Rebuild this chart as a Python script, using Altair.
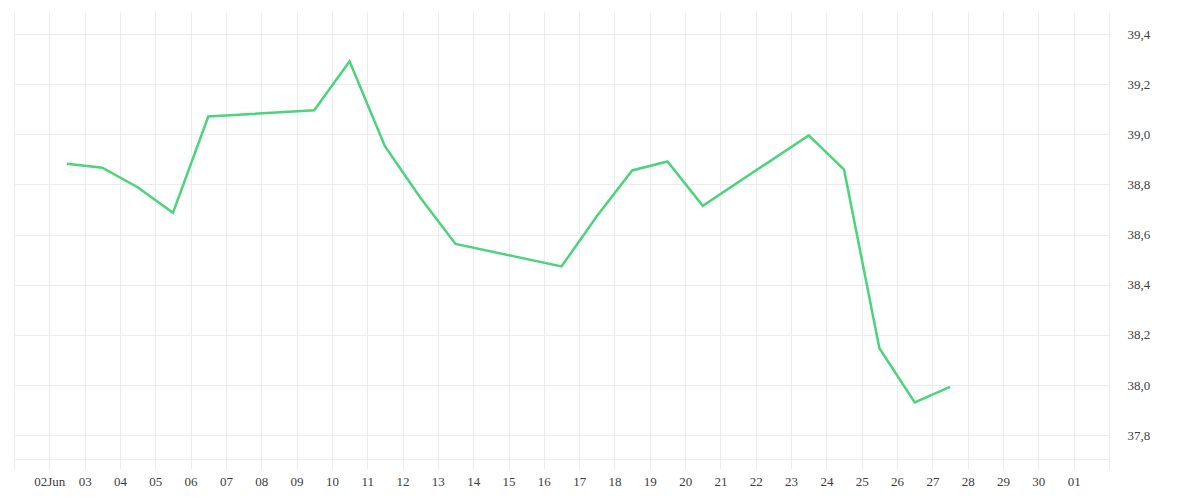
import altair as alt
import pandas as pd

dates = [
    "2024-06-02T12:00:00", "2024-06-03T12:00:00", "2024-06-04T12:00:00",
    "2024-06-05T12:00:00", "2024-06-06T12:00:00", "2024-06-09T12:00:00",
    "2024-06-10T12:00:00", "2024-06-11T12:00:00", "2024-06-12T12:00:00",
    "2024-06-13T12:00:00", "2024-06-16T12:00:00", "2024-06-17T12:00:00",
    "2024-06-18T12:00:00", "2024-06-19T12:00:00", "2024-06-20T12:00:00",
    "2024-06-23T12:00:00", "2024-06-24T12:00:00", "2024-06-25T12:00:00",
    "2024-06-26T12:00:00", "2024-06-27T12:00:00",
]
values = [
    38.883, 38.867, 38.789, 38.687, 39.071, 39.096,
    39.291, 38.953, 38.748, 38.563, 38.473, 38.673,
    38.856, 38.892, 38.715, 38.996, 38.859, 38.147,
    37.931, 37.993,
]
y_ticks = [37.8, 38.0, 38.2, 38.4, 38.6, 38.8, 39.0, 39.2, 39.4]

df = pd.DataFrame({"date": dates, "value": values})

june_days = [alt.DateTime(year=2024, month=6, date=d) for d in range(1, 31)]
july_days = [alt.DateTime(year=2024, month=7, date=d) for d in (1, 2)]
x_ticks = june_days + july_days

GRID = "#ececec"
TEXT = "#3d3d3d"
FONT = "Liberation Serif"

label_expr = (
    "(date(datum.value)==2 && month(datum.value)==5) ? '02Jun' : "
    "((date(datum.value)==1 && month(datum.value)==5) || (date(datum.value)==2 && month(datum.value)==6)) ? '' : "
    "timeFormat(datum.value, '%d')"
)

chart = alt.Chart(df).mark_line(color="#4cd47c", strokeWidth=2.5).encode(
    x=alt.X(
        "date:T",
        scale=alt.Scale(
            domain=[alt.DateTime(year=2024, month=6, date=1),
                    alt.DateTime(year=2024, month=7, date=2)],
            nice=False,
        ),
        axis=alt.Axis(
            title=None,
            values=x_ticks,
            labelExpr=label_expr,
            grid=True,
            gridColor=GRID,
            gridWidth=1,
            domain=True,
            domainColor=GRID,
            domainWidth=1,
            ticks=True,
            tickColor=GRID,
            tickSize=10,
            tickWidth=1,
            labelPadding=6,
            labelFont=FONT,
            labelFontSize=13,
            labelColor=TEXT,
            labelOverlap=False,
            labelFlush=False,
        ),
    ),
    y=alt.Y(
        "value:Q",
        scale=alt.Scale(domain=[37.705, 39.488], nice=False, zero=False),
        axis=alt.Axis(
            title=None,
            orient="right",
            values=y_ticks,
            labelExpr="replace(format(datum.value, '.1f'), '.', ',')",
            grid=True,
            gridColor=GRID,
            gridWidth=1,
            domain=False,
            ticks=False,
            labelPadding=18,
            labelFont=FONT,
            labelFontSize=13,
            labelColor=TEXT,
            labelFlush=False,
        ),
    ),
).properties(
    width=1095,
    height=447,
    padding={"left": 5, "top": 4, "right": 5, "bottom": 5},
    background="white",
).configure_view(stroke=None)

chart.save("out.html", embed_options={"renderer": "svg", "actions": False})
